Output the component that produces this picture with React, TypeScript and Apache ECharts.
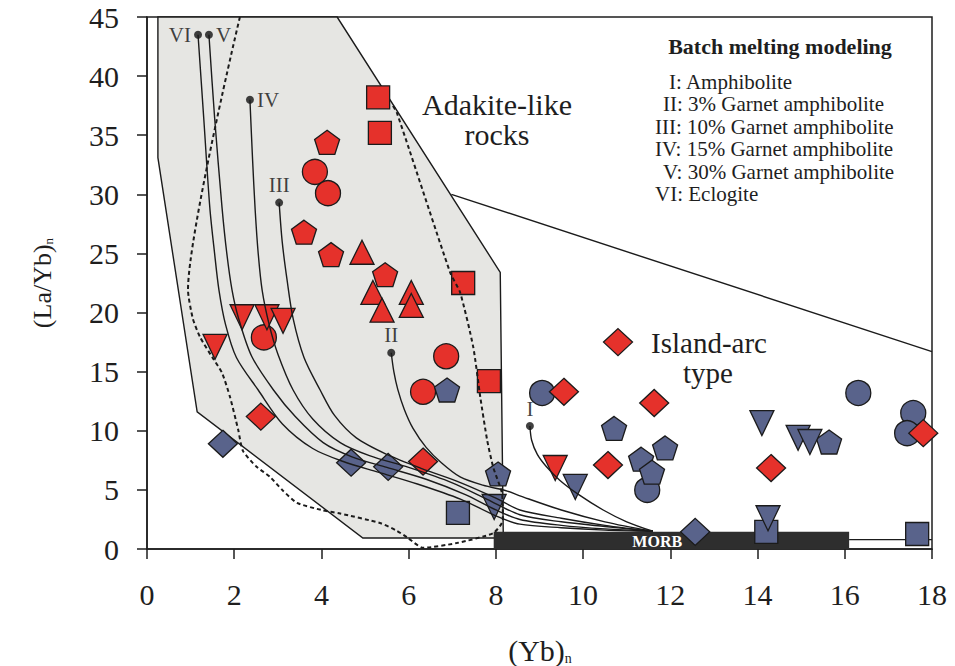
import React, { useEffect, useRef } from "react";
import * as echarts from "echarts";

const SERIF = '"Liberation Serif", "Times New Roman", serif';
const RED = "#e5312b";
const BLUE = "#59638b";
const EDGE = "#1b1b1b";
const INK = "#1e1e1e";

// Field outlines, in (Yb)n / (La/Yb)n units
const adakiteField = [
  [0.25, 45], [0.25, 33.1], [1.15, 11.6], [4.95, 0.93],
  [8.17, 0.93], [8.1, 23.4], [4.36, 45],
];
const islandArcBoundary = [[6.98, 30.0], [18, 16.7]];
const adakiteDashed = [
  [2.13, 45], [0.94, 21.9], [1.05, 19.5], [1.22, 17.9], [1.5, 16.2], [1.72, 14.9],
  [1.9, 12.9], [2.09, 10.1], [2.2, 8.3], [2.5, 7.0], [2.82, 6.1], [3.1, 5.0],
  [3.44, 3.9], [4.0, 3.3], [4.43, 3.0], [5.34, 2.2], [5.7, 1.6], [5.96, 1.0],
  [6.33, 0.1], [7.1, 0.5], [7.94, 1.35], [8.16, 2.45], [8.14, 4.7], [7.94, 6.9],
  [7.8, 9.2], [7.64, 12.9], [7.48, 17.1], [7.18, 21.7], [6.95, 23.4], [5.73, 36.9],
  [5.62, 37.6],
];

// Batch melting curves toward MORB
const curveI = [
  [8.78, 10.4], [8.82, 9.2], [8.95, 8.0], [9.15, 7.0], [9.47, 5.8], [9.9, 4.6],
  [10.46, 3.3], [11.0, 2.3], [11.6, 1.5],
];
const curveII = [
  [5.6, 16.6], [5.66, 15], [5.75, 13.5], [5.9, 11.8], [6.1, 10.2], [6.4, 8.6],
  [6.75, 7.3], [7.18, 6.1], [7.7, 5.4], [8.26, 4.9], [8.55, 4.5], [9.5, 3.3],
  [10.5, 2.3], [11.6, 1.5],
];
const curveIII = [
  [3.03, 29.3], [3.1, 26], [3.21, 22.8], [3.35, 19.5], [3.6, 16.2], [3.97, 13.45],
  [4.3, 11.3], [4.8, 9.4], [5.5, 8.0], [6.3, 6.8], [7.2, 5.6], [8.0, 4.3],
  [8.55, 3.3], [9.5, 2.6], [10.5, 2.0], [11.6, 1.5],
];
const curveIV = [
  [2.36, 38], [2.42, 33], [2.48, 28.7], [2.55, 25], [2.64, 21.9], [2.8, 19],
  [3.0, 16.5], [3.35, 13.45], [3.8, 11], [4.43, 9.0], [5.1, 7.9], [6.0, 6.9],
  [7.0, 5.6], [7.8, 4.2], [8.55, 2.9], [9.5, 2.3], [10.5, 1.9], [11.6, 1.5],
];
const curveV = [
  [1.42, 43.5], [1.55, 36.5], [1.72, 28.9], [1.83, 25], [1.95, 21.9], [2.1, 19.5],
  [2.4, 16.3], [2.9, 13.45], [3.4, 11.2], [4.04, 9.0], [4.7, 7.8], [5.5, 6.9],
  [6.4, 5.9], [7.3, 4.6], [8.0, 3.3], [8.55, 2.5], [9.5, 2.0], [10.5, 1.7],
  [11.6, 1.5],
];
const curveVI = [
  [1.17, 43.5], [1.3, 36.5], [1.44, 28.9], [1.55, 25], [1.65, 21.9], [1.8, 19],
  [2.05, 16.2], [2.55, 13.45], [3.1, 10.6], [3.8, 8.5], [4.5, 7.4], [5.3, 6.5],
  [6.2, 5.5], [7.2, 4.2], [8.0, 2.8], [8.55, 2.1], [9.5, 1.8], [10.5, 1.6],
  [11.6, 1.5],
];
const curveNames = ["I", "II", "III", "IV", "V", "VI"];
const curveLabelSide = ["top", "top", "top", "right", "right", "left"];

// MORB reference bar
const morbX = [7.95, 16.1];
const morbTop = 1.45;
const morbTailY = 0.8;
const morbLabelAt = [11.7, 0.62];

// Samples: adakite-like (red) and island-arc type (blue)
const redSquares = [[5.3, 38.2], [5.34, 35.2], [7.25, 22.5], [7.84, 14.2]];
const redPentagons = [[4.13, 34.4], [3.6, 26.8], [4.22, 24.9], [5.46, 23.2]];
const redCircles = [[3.85, 31.9], [4.15, 30.1], [2.68, 17.9], [6.86, 16.3], [6.33, 13.3]];
const redTriangles = [[4.93, 25.1], [5.18, 21.7], [5.39, 20.2], [6.06, 21.7], [6.06, 20.6]];
const redInvTriangles = [[1.56, 17.1], [2.18, 19.6], [2.75, 19.6], [3.12, 19.3], [9.36, 6.85]];
const redDiamonds = [
  [2.61, 11.2], [6.33, 7.4], [9.56, 13.3], [11.63, 12.35], [10.57, 7.1],
  [14.31, 6.85], [17.8, 9.8],
];
const islandArcMarker = [[10.8, 17.5]];

const blueDiamonds = [[1.74, 8.9], [4.68, 7.3], [5.53, 6.95], [12.57, 1.45]];
const blueSquares = [[7.13, 3.05], [14.2, 1.45], [17.66, 1.27]];
const blueInvTriangles = [
  [7.96, 3.55], [9.82, 5.25], [14.1, 10.65], [14.24, 2.6], [14.93, 9.4], [15.2, 9.05],
];
const bluePentagons = [
  [6.88, 13.45], [8.05, 6.35], [10.71, 10.2], [11.88, 8.55], [11.33, 7.6],
  [11.58, 6.5], [15.64, 9.05],
];
const blueCircles = [[9.06, 13.2], [11.47, 5.0], [16.31, 13.2], [17.57, 11.5], [17.43, 9.8]];

const legendTitle = "Batch melting modeling";
const legendLines = [
  "I: Amphibolite",
  "II: 3% Garnet amphibolite",
  "III: 10% Garnet amphibolite",
  "IV: 15% Garnet amphibolite",
  "V: 30% Garnet amphibolite",
  "VI: Eclogite",
];
const legendLineX = [669, 663, 655, 655, 663, 655];

const PENTAGON = "path://M12,0 L24,8.7 L19.4,23 L4.6,23 L0,8.7 Z";

function markers(data: number[][], color: string, symbol: string, size: number | number[], rotate = 0) {
  return {
    type: "scatter",
    data,
    symbol,
    symbolSize: size,
    symbolRotate: rotate,
    silent: true,
    itemStyle: { color, borderColor: EDGE, borderWidth: 1.3, opacity: 1 },
  };
}

function curve(data: number[][]) {
  return {
    type: "line",
    data,
    smooth: 0.3,
    symbol: "none",
    silent: true,
    lineStyle: { color: EDGE, width: 1.4 },
  };
}

export default function App() {
  const ref = useRef<HTMLDivElement>(null);

  useEffect(() => {
    if (!ref.current) return;
    const chart = echarts.init(ref.current, null, { renderer: "svg" });
    const curves = [curveI, curveII, curveIII, curveIV, curveV, curveVI];

    const option: any = {
      animation: false,
      backgroundColor: "#ffffff",
      grid: {
        left: 147, right: 23, top: 17, bottom: 117,
        show: true, borderColor: INK, borderWidth: 1.5,
        backgroundColor: "transparent",
        outerBoundsMode: "none",
      },
      xAxis: {
        type: "value", min: 0, max: 18, interval: 2,
        axisLine: { show: true, onZero: false, lineStyle: { color: INK, width: 1.5 } },
        axisTick: { show: true, inside: false, length: 10, lineStyle: { color: INK, width: 1.5 } },
        axisLabel: { fontSize: 30, fontFamily: SERIF, color: INK, margin: 30 },
        splitLine: { show: false },
      },
      yAxis: {
        type: "value", min: 0, max: 45, interval: 5,
        axisLine: { show: true, onZero: false, lineStyle: { color: INK, width: 1.5 } },
        axisTick: { show: true, inside: false, length: 10, lineStyle: { color: INK, width: 1.5 } },
        axisLabel: { fontSize: 30, fontFamily: SERIF, color: INK, margin: 28 },
        splitLine: { show: false },
      },
      graphic: [
        {
          type: "text", x: 40, y: 283, rotation: Math.PI / 2,
          style: {
            text: "{b|(La/Yb)}{s|n}", align: "center", verticalAlign: "middle",
            rich: {
              b: { fontSize: 26, fontFamily: SERIF, fill: INK, lineHeight: 30, verticalAlign: "bottom" },
              s: { fontSize: 13, fontFamily: SERIF, fill: INK, lineHeight: 24, verticalAlign: "bottom" },
            },
          },
        },
        {
          type: "text", x: 540, y: 648,
          style: {
            text: "{b|(Yb)}{s|n}", align: "center", verticalAlign: "middle",
            rich: {
              b: { fontSize: 30, fontFamily: SERIF, fill: INK, lineHeight: 34, verticalAlign: "bottom" },
              s: { fontSize: 14, fontFamily: SERIF, fill: INK, lineHeight: 26, verticalAlign: "bottom" },
            },
          },
        },
        {
          type: "text", x: 497, y: 104,
          style: { text: "Adakite-like", font: `30px ${SERIF}`, fill: INK, align: "center", verticalAlign: "middle" },
        },
        {
          type: "text", x: 497, y: 134,
          style: { text: "rocks", font: `30px ${SERIF}`, fill: INK, align: "center", verticalAlign: "middle" },
        },
        {
          type: "text", x: 709, y: 343,
          style: { text: "Island-arc", font: `29px ${SERIF}`, fill: INK, align: "center", verticalAlign: "middle" },
        },
        {
          type: "text", x: 708, y: 373,
          style: { text: "type", font: `29px ${SERIF}`, fill: INK, align: "center", verticalAlign: "middle" },
        },
        {
          type: "text", x: 780, y: 46,
          style: { text: legendTitle, font: `bold 22px ${SERIF}`, fill: INK, align: "center", verticalAlign: "middle" },
        },
        ...legendLines.map((t, i) => ({
          type: "text", x: legendLineX[i], y: 82 + i * 22.4,
          style: { text: t, font: `21px ${SERIF}`, fill: INK, align: "left", verticalAlign: "middle" },
        })),
      ],
      series: [
        {
          type: "custom",
          silent: true,
          data: [[0, 0]],
          renderItem: (_p: any, api: any) => ({
            type: "polygon",
            shape: { points: adakiteField.map((p) => api.coord(p)) },
            style: { fill: "#e6e6e3", stroke: EDGE, lineWidth: 1.4 },
          }),
        },
        {
          type: "line", data: islandArcBoundary, symbol: "none", silent: true,
          lineStyle: { color: EDGE, width: 1.4 },
        },
        {
          type: "line", data: adakiteDashed, symbol: "none", silent: true, smooth: 0.2,
          lineStyle: { color: EDGE, width: 2, type: [4, 3] },
        },
        {
          type: "custom",
          silent: true,
          data: [[0, 0]],
          renderItem: (_p: any, api: any) => {
            const a = api.coord([morbX[0], morbTop]);
            const b = api.coord([morbX[1], 0]);
            const t0 = api.coord([morbX[1], morbTailY]);
            const t1 = api.coord([18, morbTailY]);
            const lab = api.coord(morbLabelAt);
            return {
              type: "group",
              children: [
                { type: "rect", shape: { x: a[0], y: a[1], width: b[0] - a[0], height: b[1] - a[1] }, style: { fill: "#2e2e2e" } },
                { type: "line", shape: { x1: t0[0], y1: t0[1], x2: t1[0], y2: t1[1] }, style: { stroke: EDGE, lineWidth: 1.2 } },
                { type: "text", style: { text: "MORB", x: lab[0], y: lab[1], fill: "#ffffff", font: `bold 16px ${SERIF}`, align: "center", verticalAlign: "middle" } },
              ],
            };
          },
        },
        markers(redCircles, RED, "circle", 25),
        markers(blueCircles, BLUE, "circle", 25),
        markers(redSquares, RED, "rect", 23),
        markers(blueSquares, BLUE, "rect", 23),
        markers(bluePentagons, BLUE, PENTAGON, [25, 24]),
        markers(redPentagons, RED, PENTAGON, [25, 24]),
        markers(redTriangles, RED, "triangle", [24, 24]),
        markers(redInvTriangles, RED, "triangle", [24, 25], 180),
        markers(blueInvTriangles, BLUE, "triangle", [24, 25], 180),
        markers(redDiamonds, RED, "diamond", [29, 27]),
        markers(blueDiamonds, BLUE, "diamond", [29, 27]),
        markers(islandArcMarker, RED, "diamond", [29, 27]),
        ...curves.map((c) => curve(c)),
        {
          type: "scatter",
          silent: true,
          symbol: "circle",
          symbolSize: 8,
          itemStyle: { color: "#111" },
          data: curves.map((c, i) => ({
            value: c[0],
            label: {
              show: true,
              formatter: curveNames[i],
              position: curveLabelSide[i],
              distance: 3,
              fontSize: 21,
              fontFamily: SERIF,
              color: "#111",
            },
          })),
        },
      ],
    };

    chart.setOption(option);
    return () => chart.dispose();
  }, []);

  return (
    <div
      ref={ref}
      style={{ position: "fixed", left: 0, top: 0, width: 955, height: 666, background: "#fff" }}
    />
  );
}
